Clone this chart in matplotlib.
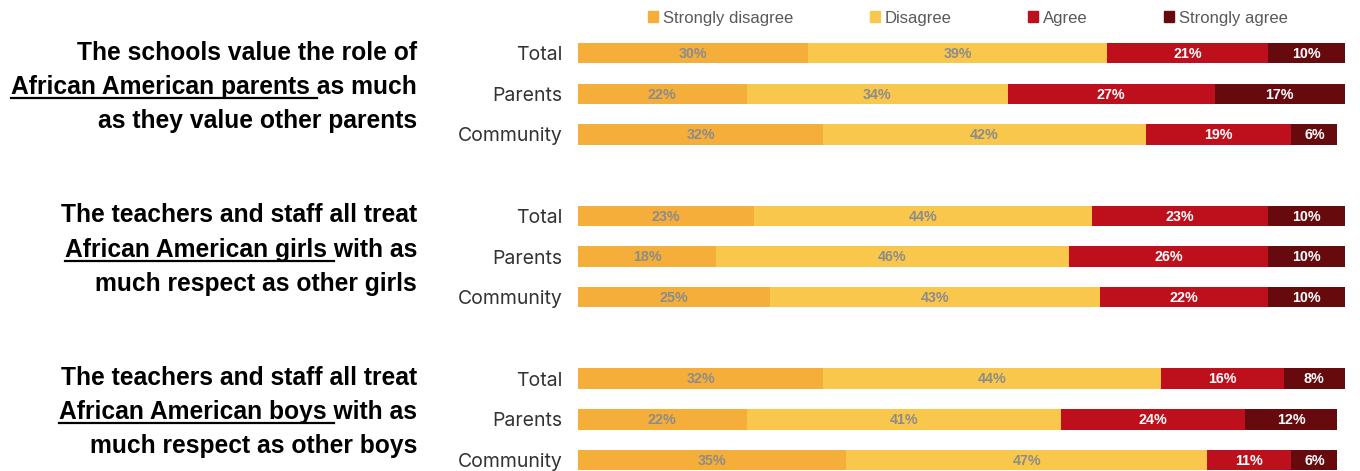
import matplotlib.pyplot as plt
from matplotlib.patches import Patch

categories = ['Strongly disagree', 'Disagree', 'Agree', 'Strongly agree']
colors = ['#F5AE3A', '#F9C74B', '#BE101C', '#660A0E']
label_colors = ['#8C8C8C', '#8C8C8C', 'white', 'white']

rows = ['Total', 'Parents', 'Community'] * 3

strongly_disagree = [30, 22, 32, 23, 18, 25, 32, 22, 35]
disagree = [39, 34, 42, 44, 46, 43, 44, 41, 47]
agree = [21, 27, 19, 23, 26, 22, 16, 24, 11]
strongly_agree = [10, 17, 6, 10, 10, 10, 8, 12, 6]

# question text: (first line, underlined part, rest of second line, third line)
questions = [
    ('The schools value the role of', 'African American parents ', 'as much', 'as they value other parents'),
    ('The teachers and staff all treat', 'African American girls ', 'with as', 'much respect as other girls'),
    ('The teachers and staff all treat', 'African American boys ', 'with as', 'much respect as other boys'),
]

W, H = 1360, 471
fig = plt.figure(figsize=(W / 100, H / 100), dpi=100)
ax = fig.add_axes([578 / W, 1 - 470.2 / H, 767 / W, 437.5 / H])

ypos = [0, 1, 2, 4, 5, 6, 8, 9, 10]
series = [strongly_disagree, disagree, agree, strongly_agree]

left = [0] * len(ypos)
for s, vals in enumerate(series):
    ax.barh(ypos, vals, left=left, height=0.5, color=colors[s], label=categories[s])
    for y, l, v in zip(ypos, left, vals):
        ax.text(l + v / 2, y + 0.02, f'{v}%', ha='center', va='center', fontsize=10.3,
                fontweight='bold', color=label_colors[s], family='Liberation Sans')
    left = [a + b for a, b in zip(left, vals)]

ax.set_xlim(0, 100)
ax.set_ylim(10.25, -0.5)
ax.set_yticks(ypos)
ax.set_yticklabels(rows, fontsize=14, color='#333333', family='Inter')
ax.tick_params(axis='y', length=0, pad=11)
ax.set_xticks([])
for sp in ax.spines.values():
    sp.set_visible(False)

handles = [Patch(color=c) for c in colors]
fig.legend(handles, categories, loc='center', bbox_to_anchor=(968 / W, 1 - 18 / H), ncol=4,
           frameon=False, labelcolor='#595959', handlelength=0.6, handleheight=0.6,
           handletextpad=0.3, columnspacing=4.6, prop={'family': 'Liberation Sans', 'size': 12})

# question headings, right aligned at x=417
fig.canvas.draw()
renderer = fig.canvas.get_renderer()
xr = 417 / W
fs = 17.7
for g, (l1, ul, rest, l3) in enumerate(questions):
    ys = [53 + g * 162.5, 53 + g * 162.5 + 34, 53 + g * 162.5 + 68]
    kw = dict(ha='right', va='center', fontsize=fs, fontweight='bold', family='Liberation Sans', color='black')
    fig.text(xr, 1 - ys[0] / H, l1, **kw)
    full = fig.text(xr, 1 - ys[1] / H, ul + rest, **kw)
    tail = fig.text(xr, 1 - ys[1] / H, rest, **kw)
    tail.set_alpha(0)
    bb_full = full.get_window_extent(renderer)
    bb_tail = tail.get_window_extent(renderer)
    y_ul = (H - ys[1] - 11) / H
    fig.add_artist(plt.Line2D([bb_full.x0 / W, bb_tail.x0 / W], [y_ul, y_ul],
                              color='black', lw=1.6, transform=fig.transFigure))
    fig.text(xr, 1 - ys[2] / H, l3, **kw)

fig.savefig('out.png', dpi=100, facecolor='white')
